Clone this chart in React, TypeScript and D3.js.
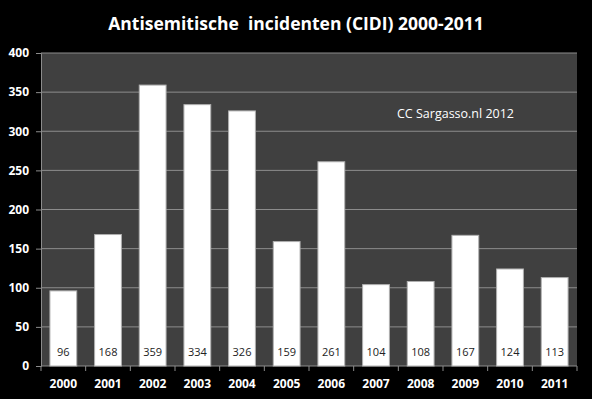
import { useEffect, useRef } from "react";
import * as d3 from "d3";

const years = ["2000", "2001", "2002", "2003", "2004", "2005", "2006", "2007", "2008", "2009", "2010", "2011"];
const incidents = [96, 168, 359, 334, 326, 159, 261, 104, 108, 167, 124, 113];
const yTicks = [0, 50, 100, 150, 200, 250, 300, 350, 400];

const title = "Antisemitische  incidenten (CIDI) 2000-2011";
const credit = "CC Sargasso.nl 2012";

export default function App() {
  const ref = useRef<SVGSVGElement>(null);

  useEffect(() => {
    const width = 592;
    const height = 399;
    const margin = { top: 53, right: 15, bottom: 33, left: 41 };
    const font = "Open Sans, DejaVu Sans, sans-serif";

    const svg = d3.select(ref.current);
    svg.selectAll("*").remove();

    svg.append("rect").attr("width", width).attr("height", height).attr("fill", "#000");

    const x = d3
      .scaleBand()
      .domain(years)
      .range([margin.left, width - margin.right])
      .paddingInner(0.4)
      .paddingOuter(0.2);

    const y = d3.scaleLinear().domain([0, 400]).range([height - margin.bottom, margin.top]);

    // fond de la zone de tracé
    svg
      .append("rect")
      .attr("x", margin.left)
      .attr("y", margin.top)
      .attr("width", width - margin.right - margin.left)
      .attr("height", y(0) - margin.top)
      .attr("fill", "#404040");

    // lignes horizontales
    svg
      .append("g")
      .selectAll("line")
      .data(yTicks.filter((t) => t > 0))
      .join("line")
      .attr("x1", margin.left)
      .attr("x2", width - margin.right)
      .attr("y1", (d) => y(d))
      .attr("y2", (d) => y(d))
      .attr("stroke", "#8c8c8c")
      .attr("stroke-width", 1);

    // axe Y
    const yAxis = svg
      .append("g")
      .attr("transform", `translate(${margin.left},0)`)
      .call(d3.axisLeft(y).tickValues(yTicks).tickSize(5).tickPadding(7));
    yAxis.select(".domain").attr("stroke", "#8c8c8c");
    yAxis.selectAll(".tick line").attr("stroke", "#8c8c8c");
    yAxis
      .selectAll("text")
      .attr("fill", "#fff")
      .attr("font-family", font)
      .attr("font-size", 12)
      .attr("font-weight", "bold");

    // axe X (ticks entre les catégories)
    const bottom = y(0);
    const xAxis = svg.append("g");
    xAxis
      .append("line")
      .attr("x1", margin.left)
      .attr("x2", width - margin.right)
      .attr("y1", bottom)
      .attr("y2", bottom)
      .attr("stroke", "#8c8c8c");
    const step = x.step();
    const edges = d3.range(years.length + 1).map((i) => margin.left + i * step);
    xAxis
      .selectAll("line.tk")
      .data(edges)
      .join("line")
      .attr("class", "tk")
      .attr("x1", (d) => d)
      .attr("x2", (d) => d)
      .attr("y1", bottom)
      .attr("y2", bottom + 5)
      .attr("stroke", "#8c8c8c");
    xAxis
      .selectAll("text")
      .data(years)
      .join("text")
      .attr("x", (d) => x(d)! + x.bandwidth() / 2)
      .attr("y", bottom + 22)
      .attr("text-anchor", "middle")
      .attr("fill", "#fff")
      .attr("font-family", font)
      .attr("font-size", 12)
      .attr("font-weight", "bold")
      .text((d) => d);

    // barres
    const data = years.map((yr, i) => ({ year: yr, value: incidents[i] }));
    svg
      .append("g")
      .selectAll("rect")
      .data(data)
      .join("rect")
      .attr("x", (d) => x(d.year)!)
      .attr("y", (d) => y(d.value))
      .attr("width", x.bandwidth())
      .attr("height", (d) => bottom - y(d.value))
      .attr("fill", "#fff")
      .attr("stroke", "#b0b0b0")
      .attr("stroke-width", 1);

    // valeurs dans les barres
    svg
      .append("g")
      .selectAll("text")
      .data(data)
      .join("text")
      .attr("x", (d) => x(d.year)! + x.bandwidth() / 2)
      .attr("y", bottom - 10)
      .attr("text-anchor", "middle")
      .attr("fill", "#222")
      .attr("font-family", font)
      .attr("font-size", 11)
      .text((d) => d.value);

    // titre
    svg
      .append("text")
      .attr("x", 296)
      .attr("y", 30)
      .attr("text-anchor", "middle")
      .attr("fill", "#fff")
      .attr("font-family", font)
      .attr("font-size", 17.5)
      .attr("font-weight", "bold")
      .attr("xml:space", "preserve")
      .style("white-space", "pre")
      .text(title);

    svg
      .append("text")
      .attr("x", 397)
      .attr("y", 118)
      .attr("fill", "#fff")
      .attr("font-family", font)
      .attr("font-size", 12.5)
      .text(credit);
  }, []);

  return (
    <svg
      ref={ref}
      width={592}
      height={399}
      style={{ position: "absolute", left: 0, top: 0, display: "block" }}
    />
  );
}
